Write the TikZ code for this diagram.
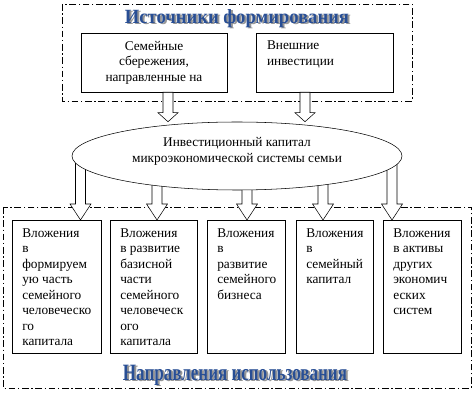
\documentclass[tikz,border=0pt]{standalone}
\usepackage{fontspec}
\setmainfont{Liberation Serif}
\usepackage{graphicx}
\usetikzlibrary{shapes.geometric,calc}
\pgfdeclarelayer{frame}
\pgfdeclarelayer{arrows}
\pgfsetlayers{frame,arrows,main}
\definecolor{wordblue}{RGB}{40,78,148}
\definecolor{wordshadow}{RGB}{150,150,150}
\tikzset{
  dashframe/.style={draw, dash pattern=on 5pt off 2pt on 1pt off 2pt},
  srcbox/.style={draw, fill=white, inner sep=0pt, minimum height=44.25pt},
  usebox/.style={draw, fill=white, anchor=north west, inner xsep=7.5pt, inner ysep=0pt},
  arrowbody/.style={draw, fill=white, line join=miter},
}
\newcommand{\blockarrow}[4]{%
  \draw[arrowbody] ($(#1)+(-5,0)$) -- ($(#2)+(-5,-#4)$) -- ($(#2)+(-#3,-#4)$) -- (#2)
    -- ($(#2)+(#3,-#4)$) -- ($(#2)+(5,-#4)$) -- ($(#1)+(5,0)$) -- cycle;}
\newcommand{\wordart}[2]{\resizebox{168pt}{#1}{\bfseries #2}}
\newcommand{\usecell}[2]{\parbox[c][99.75pt][t]{#1}{\raggedright\rule{0pt}{12.75pt}#2}}

\begin{document}
\begin{tikzpicture}[x=0.75pt, y=-0.75pt, line width=0.6pt, font=\fontsize{10}{11.6}\selectfont]
  \useasboundingbox (0,0) rectangle (474,402);
  \begin{pgfonlayer}{frame}
    \draw[dashframe] (62,4) rectangle (412,101);
    \draw[dashframe] (3,207) rectangle (471,388);
  \end{pgfonlayer}

  \node[text=wordshadow, inner sep=0pt, anchor=base] (title1s) at (239,25) {\wordart{10.5pt}{Источники формирования}};
  \node[text=wordblue, inner sep=0pt, anchor=base] (title1) at (237,24) {\wordart{10.5pt}{Источники формирования}};
  \node[text=wordshadow, inner sep=0pt, anchor=base] (title2s) at (237,381) {\wordart{11.5pt}{Направления использования}};
  \node[text=wordblue, inner sep=0pt, anchor=base] (title2) at (235,380) {\wordart{11.5pt}{Направления использования}};

  \node[srcbox, minimum width=109.5pt, align=center] (s1) at (154,62.5) {Семейные\\сбережения,\\направленные на};
  \node[srcbox, minimum width=102.75pt, inner xsep=8.25pt] (s2) at (324.5,62.5)
    {\parbox[c][44.25pt][t]{86.25pt}{\raggedright\rule{0pt}{12.75pt}Внешние\\инвестиции}};

  \node[ellipse, draw, fill=white, minimum width=247.5pt, minimum height=51pt, inner sep=0pt, align=center] (cap) at (237,156)
    {Инвестиционный капитал\\микроэкономической системы семьи\rule[-9pt]{0pt}{0pt}};

  \node[usebox] (b1) at (12,220) {\usecell{51.75pt}{Вложения\\в\\формируем\\ую часть\\семейного\\человеческо\\го\\капитала}};
  \node[usebox] (b2) at (110,220) {\usecell{50.25pt}{Вложения\\в развитие\\базисной\\части\\семейного\\человеческ\\ого\\капитала}};
  \node[usebox] (b3) at (207,220) {\usecell{43.5pt}{Вложения\\в развитие\\семейного\\бизнеса}};
  \node[usebox] (b4) at (296,220) {\usecell{42.75pt}{Вложения\\в\\семейный\\капитал}};
  \node[usebox] (b5) at (383,220) {\usecell{43.5pt}{Вложения\\в активы\\других\\экономич\\еских\\систем}};

  \coordinate (u1) at (168,0); \coordinate (u2) at (305,0);
  \coordinate (t1) at (80.5,0); \coordinate (t2) at (157,0); \coordinate (t3) at (247,0);
  \coordinate (t4) at (323,0); \coordinate (t5) at (392,0);

  \blockarrow{s1.south -| u1}{cap.north -| u1}{10}{9}
  \blockarrow{s2.south -| u2}{cap.north -| u2}{10}{9}
  \begin{pgfonlayer}{arrows}
    \foreach \t/\b in {t1/b1,t2/b2,t3/b3,t4/b4,t5/b5}
      {\blockarrow{cap.center -| \t}{\b.north -| \t}{10.5}{16}}
  \end{pgfonlayer}
\end{tikzpicture}
\end{document}
